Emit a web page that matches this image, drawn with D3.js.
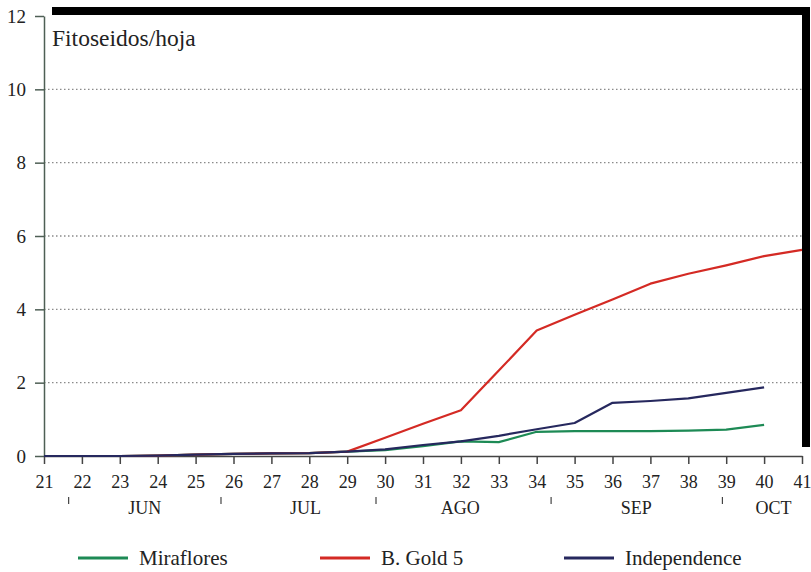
<!DOCTYPE html>
<html>
<head>
<meta charset="utf-8">
<script src="https://cdn.jsdelivr.net/npm/d3@7"></script>
<style>
  body { margin: 0; background: #fff; }
  text { font-family: "Liberation Serif", "DejaVu Serif", serif; fill: #222; }
</style>
</head>
<body>
<div id="chart"></div>
<script>
// Semanas (eje X) y valores de fitoseidos por hoja
var weeks = [21,22,23,24,25,26,27,28,29,30,31,32,33,34,35,36,37,38,39,40,41];
var miraflores   = [0,0,0,0.01,0.04,0.06,0.07,0.08,0.12,0.16,0.27,0.4,0.38,0.66,0.68,0.68,0.68,0.69,0.72,0.85,null];
var bGold5       = [0,0,0,0.01,0.04,0.06,0.07,0.08,0.12,0.5,0.88,1.25,2.33,3.42,3.85,4.27,4.7,4.97,5.2,5.45,5.62];
var independence = [0,0,0,0.01,0.04,0.06,0.07,0.08,0.12,0.18,0.3,0.4,0.55,0.73,0.9,1.45,1.5,1.57,1.72,1.87,null];

var yTicks = [0,2,4,6,8,10,12];
var gridTicks = [2,4,6,8,10];

// Meses bajo el eje, con sus separadores (en unidades de semana)
var months = ["JUN","JUL","AGO","SEP","OCT"];
var monthPos = [23.66, 27.9, 31.98, 36.63, 40.25];
var monthBreaks = [21.65, 25.67, 29.76, 34.38, 38.9];

var seriesNames = ["Miraflores","B. Gold 5","Independence"];
var seriesColors = ["#1d8a55","#d42a24","#26285e"];

function drawChart(){
	var width = 811, height = 572;
	var pLeft = 44, pRight = 802, pTop = 16, pBottom = 456;

	var svg = d3.select("#chart")
	            .append("svg")
	            .attr("width", width)
	            .attr("height", height);

	var x = d3.scaleLinear().domain([21, 41]).range([pLeft, pRight]);
	var y = d3.scaleLinear().domain([0, 12]).range([pBottom, pTop]);

	// Sombra negra arriba y a la derecha del cuadro
	svg.append("rect")
	   .attr("x", pLeft + 8).attr("y", pTop - 9)
	   .attr("width", pRight - pLeft).attr("height", pBottom - pTop)
	   .style("fill", "#000");
	svg.append("rect")
	   .attr("x", pLeft).attr("y", pTop - 1)
	   .attr("width", pRight - pLeft).attr("height", pBottom - pTop + 1)
	   .style("fill", "#fff");

	// Lineas de cuadricula punteadas
	svg.selectAll("line.grid")
	   .data(gridTicks)
	   .enter()
	   .append("line")
	   .attr("class", "grid")
	   .attr("x1", pLeft).attr("x2", pRight)
	   .attr("y1", function(d){ return y(d); })
	   .attr("y2", function(d){ return y(d); })
	   .style("stroke", "#8a8a8a")
	   .style("stroke-width", 1.3)
	   .style("stroke-dasharray", "1.5,2.5");

	// Eje Y
	var yAxis = svg.append("g")
	   .attr("transform", "translate(" + pLeft + ",0)")
	   .call(d3.axisLeft(y).tickValues(yTicks).tickSize(9).tickSizeOuter(0).tickPadding(9));
	yAxis.select(".domain").style("stroke", "#4e5f55").style("stroke-width", 1.5);
	yAxis.selectAll(".tick line").style("stroke", "#4e5f55").style("stroke-width", 1.5);
	yAxis.selectAll("text").style("font-size", "19px").style("font-family", "Liberation Serif").style("fill", "#222");

	// Eje X
	var xAxis = svg.append("g")
	   .attr("transform", "translate(0," + pBottom + ")")
	   .call(d3.axisBottom(x).tickValues(weeks).tickFormat(d3.format("d")).tickSize(8).tickSizeOuter(0).tickPadding(11));
	xAxis.select(".domain").style("stroke", "#444").style("stroke-width", 1.5);
	xAxis.selectAll(".tick line").style("stroke", "#444").style("stroke-width", 1.5);
	xAxis.selectAll("text").style("font-size", "18px").style("font-family", "Liberation Serif").style("fill", "#222");

	// Separadores y nombres de meses
	svg.selectAll("line.mbreak")
	   .data(monthBreaks)
	   .enter()
	   .append("line")
	   .attr("class", "mbreak")
	   .attr("x1", function(d){ return x(d); })
	   .attr("x2", function(d){ return x(d); })
	   .attr("y1", 497).attr("y2", 504)
	   .style("stroke", "#444")
	   .style("stroke-width", 1.2);

	svg.selectAll("text.month")
	   .data(months)
	   .enter()
	   .append("text")
	   .attr("class", "month")
	   .attr("x", function(d, i){ return x(monthPos[i]); })
	   .attr("y", 514)
	   .attr("text-anchor", "middle")
	   .style("font-size", "18px")
	   .text(function(d){ return d; });

	// Titulo dentro del grafico
	svg.append("text")
	   .attr("x", 52).attr("y", 46)
	   .style("font-size", "23.5px")
	   .text("Fitoseidos/hoja");

	// Lineas de las series
	var allSeries = [miraflores, bGold5, independence];
	var line = d3.line()
	   .defined(function(d){ return d != null; })
	   .x(function(d, i){ return x(weeks[i]); })
	   .y(function(d){ return y(d); });

	svg.selectAll("path.serie")
	   .data(allSeries)
	   .enter()
	   .append("path")
	   .attr("class", "serie")
	   .attr("d", line)
	   .style("fill", "none")
	   .style("stroke", function(d, i){ return seriesColors[i]; })
	   .style("stroke-width", 2.2)
	   .style("stroke-linejoin", "round");

	// Leyenda
	var legendX = [78, 320, 564];
	var legend = svg.selectAll("g.legend")
	   .data(seriesNames)
	   .enter()
	   .append("g")
	   .attr("class", "legend")
	   .attr("transform", function(d, i){ return "translate(" + legendX[i] + ",558)"; });

	legend.append("line")
	   .attr("x1", 0).attr("x2", 50)
	   .attr("y1", 0).attr("y2", 0)
	   .style("stroke", function(d, i){ return seriesColors[i]; })
	   .style("stroke-width", 3);

	legend.append("text")
	   .attr("x", 61).attr("y", 7)
	   .style("font-size", "21px")
	   .text(function(d){ return d; });
}

drawChart();
</script>
</body>
</html>
